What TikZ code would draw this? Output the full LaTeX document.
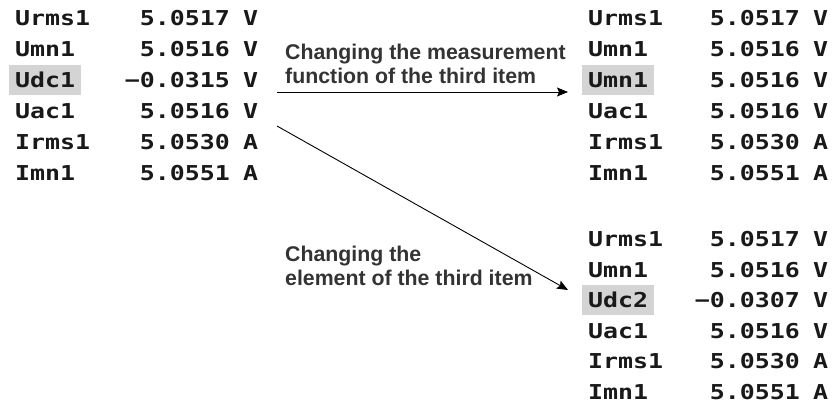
\documentclass[tikz,border=0pt]{standalone}
\usepackage{fontspec}
\setmainfont{Liberation Sans}
\newfontfamily\lcdfont{DejaVu Sans Mono}[FakeStretch=1.215]
\usetikzlibrary{arrows.meta}
\definecolor{hlgray}{gray}{0.83}
\definecolor{notegray}{gray}{0.2}

\begin{document}
\begin{tikzpicture}[x=1pt,y=-1pt,
	lcd/.style={inner sep=0pt,text height=15pt,text depth=0pt,text=black!90,font=\lcdfont\bfseries\fontsize{20.5}{20.5}\selectfont},
	item/.style={lcd,anchor=west,inner xsep=6pt,inner ysep=7.5pt},
	note/.style={inner sep=0pt,align=left,anchor=north west,text=notegray,font=\bfseries\fontsize{21.3}{24.5}\selectfont},
	chg/.style={-{Stealth[length=11pt,width=9pt,inset=2pt]},line width=0.9pt}]
	\useasboundingbox (0,0) rectangle (840,407);
	
	% before the change
	\foreach \nm/\val/\un/\fc [count=\i] in {Urms1/5.0517/V/none, Umn1/5.0516/V/none, Udc1/−0.0315/V/hlgray, Uac1/5.0516/V/none, Irms1/5.0530/A/none, Imn1/5.0551/A/none} {
		\node (lname\i) at (9, {18+31*(\i-1)}) [item, fill=\fc] {\nm};
		\node (lval\i) at (230, {18+31*(\i-1)}) [lcd, anchor=east] {\val};
		\node (lunit\i) at (243, {18+31*(\i-1)}) [lcd, anchor=west] {\un};
	}
	
	% function changed
	\foreach \nm/\val/\un/\fc [count=\i] in {Urms1/5.0517/V/none, Umn1/5.0516/V/none, Umn1/5.0516/V/hlgray, Uac1/5.0516/V/none, Irms1/5.0530/A/none, Imn1/5.0551/A/none} {
		\node (tname\i) at (582, {18+31*(\i-1)}) [item, fill=\fc] {\nm};
		\node (tval\i) at (800, {18+31*(\i-1)}) [lcd, anchor=east] {\val};
		\node (tunit\i) at (813, {18+31*(\i-1)}) [lcd, anchor=west] {\un};
	}
	
	% element changed
	\foreach \nm/\val/\un/\fc [count=\i] in {Urms1/5.0517/V/none, Umn1/5.0516/V/none, Udc2/−0.0307/V/hlgray, Uac1/5.0516/V/none, Irms1/5.0530/A/none, Imn1/5.0551/A/none} {
		\node (bname\i) at (582, {239+30.5*(\i-1)}) [item, fill=\fc] {\nm};
		\node (bval\i) at (800, {239+30.5*(\i-1)}) [lcd, anchor=east] {\val};
		\node (bunit\i) at (813, {239+30.5*(\i-1)}) [lcd, anchor=west] {\un};
	}
	
	\node (fnNote) at (285, 43.5) [note] {Changing the measurement\\function of the third item};
	\node (elNote) at (285, 245.5) [note] {Changing the\\element of the third item};
	
	\coordinate (fnStart) at (277, 92);
	\coordinate (fnEnd) at (568, 92);
	\coordinate (elStart) at (277, 126);
	\coordinate (elEnd) at (568, 290);
	
	\draw[chg] (fnStart) -- (fnEnd);
	\draw[chg] (elStart) -- (elEnd);
	
\end{tikzpicture}
\end{document}
